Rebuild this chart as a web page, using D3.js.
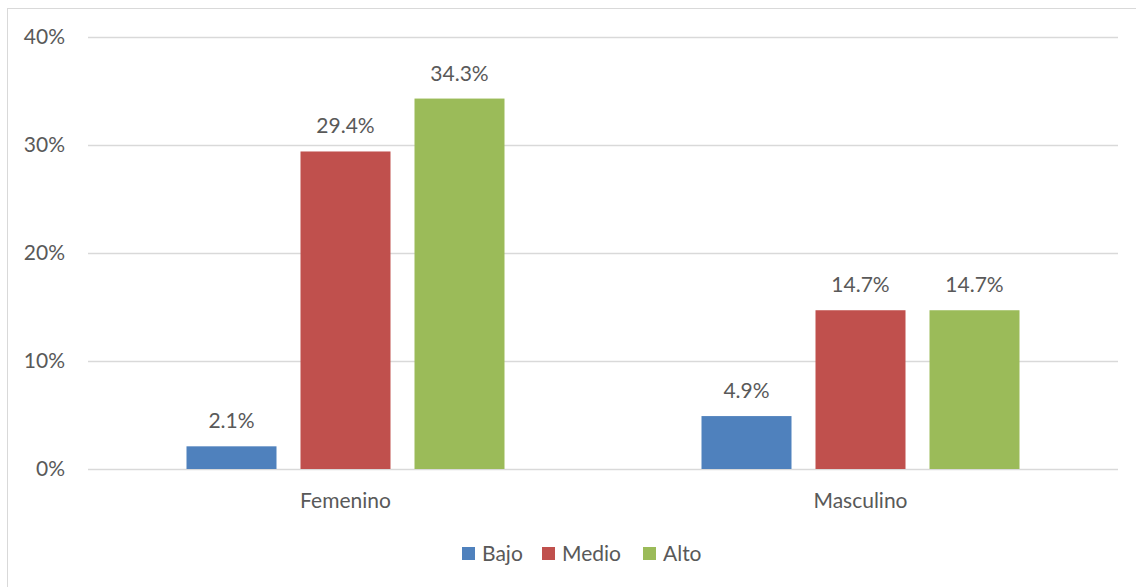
<!DOCTYPE html>
<html>
<head>
<meta charset="utf-8">
<script src="https://cdn.jsdelivr.net/npm/d3@7"></script>
<style>
  body { margin: 0; background: #fff; }
  svg text { font-family: Lato, "Open Sans", sans-serif; fill: #595959; }
</style>
</head>
<body>
<div id="chart"></div>
<script>
const categories = ['Femenino', 'Masculino'];
const series = ['Bajo', 'Medio', 'Alto'];
const colors = ['#4f81bd', '#c0504d', '#9bbb59'];
const bajo = [2.1, 4.9];
const medio = [29.4, 14.7];
const alto = [34.3, 14.7];
const yTicks = [0, 10, 20, 30, 40];

const values = [bajo, medio, alto];
const W = 1136, H = 587;
const plot = { left: 88, right: 1118, top: 37, bottom: 469 };
const fontSize = '21px';

const svg = d3.select('#chart').append('svg')
  .attr('width', W).attr('height', H);

svg.append('rect')
  .attr('x', 7.5).attr('y', 8.5)
  .attr('width', W + 10).attr('height', H + 10)
  .attr('fill', '#fff').attr('stroke', '#d9d9d9');

const x0 = d3.scaleBand().domain(categories).range([plot.left, plot.right]);
const x1 = d3.scaleBand().domain(series)
  .range([0, 318]).paddingInner(24 / 114);
const y = d3.scaleLinear().domain([0, 40]).range([plot.bottom, plot.top]);

// gridlines
svg.append('g').selectAll('line').data(yTicks).enter().append('line')
  .attr('x1', plot.left).attr('x2', plot.right)
  .attr('y1', d => Math.round(y(d)) + 0.5).attr('y2', d => Math.round(y(d)) + 0.5)
  .attr('stroke', '#d9d9d9').attr('stroke-width', 1.3);

// y tick labels
svg.append('g').selectAll('text').data(yTicks).enter().append('text')
  .attr('x', 65).attr('y', d => y(d))
  .attr('dy', '0.35em').attr('text-anchor', 'end')
  .style('font-size', fontSize)
  .text(d => d + '%');

// bars
const groups = svg.append('g').selectAll('g').data(categories).enter().append('g')
  .attr('transform', c => `translate(${x0(c) + (x0.bandwidth() - 318) / 2},0)`);

groups.each(function(c, ci) {
  const g = d3.select(this);
  series.forEach((s, si) => {
    const v = values[si][ci];
    g.append('rect')
      .attr('x', x1(s)).attr('width', x1.bandwidth())
      .attr('y', y(v)).attr('height', y(0) - y(v))
      .attr('fill', colors[si]);
    g.append('text')
      .attr('x', x1(s) + x1.bandwidth() / 2)
      .attr('y', y(v) - 18)
      .attr('text-anchor', 'middle')
      .style('font-size', fontSize)
      .text(v.toFixed(1) + '%');
  });
});

// category labels
svg.append('g').selectAll('text').data(categories).enter().append('text')
  .attr('x', c => x0(c) + x0.bandwidth() / 2)
  .attr('y', 508)
  .attr('text-anchor', 'middle')
  .style('font-size', fontSize)
  .text(c => c);

// legend
const legendX = [462, 542, 643];
const legend = svg.append('g').selectAll('g').data(series).enter().append('g')
  .attr('transform', (s, i) => `translate(${legendX[i]},547)`);
legend.append('rect')
  .attr('width', 13).attr('height', 13)
  .attr('fill', (s, i) => colors[i]);
legend.append('text')
  .attr('x', 20).attr('y', 14)
  .style('font-size', fontSize)
  .text(s => s);
</script>
</body>
</html>
